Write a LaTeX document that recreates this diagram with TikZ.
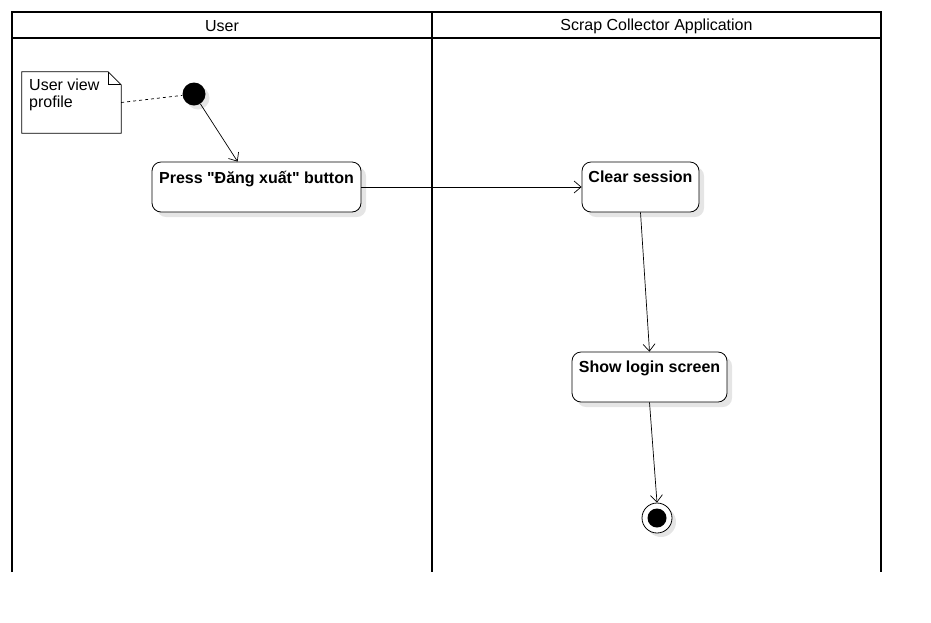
\documentclass[tikz,border=0pt]{standalone}
\usepackage{fontspec}
\setmainfont{Liberation Sans}
\usetikzlibrary{arrows.meta,shadows,calc}
\newcommand{\qdbl}{\XeTeXglyph\XeTeXglyphindex "quotedbl"\relax}
\begin{document}
\begin{tikzpicture}[x=1pt,y=-1pt,
  lane/.style={line width=2.8pt},
  hdr/.style={font=\fontsize{16}{18}\selectfont, inner sep=0pt},
  act/.style={draw, rounded corners=9pt, fill=white, line width=0.8pt,
     drop shadow={shadow xshift=5pt, shadow yshift=-5pt, fill=black!10, opacity=1}},
  acttxt/.style={font=\bfseries\fontsize{16}{18}\selectfont, inner sep=0pt, anchor=north},
  flow/.style={line width=0.7pt, -{Straight Barb[length=7pt,width=12pt,line width=0.7pt]}},
  notetxt/.style={font=\fontsize{16}{17}\selectfont, align=left, inner sep=0pt, anchor=north west}
]
\useasboundingbox (0,0) rectangle (931,622);
% swimlanes
\draw[lane] (12,572) -- (12,12) -- (881,12) -- (881,572);
\draw[lane] (432,12) -- (432,572);
\draw[lane] (12,38) -- (881,38);
\node[hdr] (huser) at (222,26) {User};
\node[hdr] (happ) at (656.5,26) {Scrap Collector Application};
% note
\node[minimum width=99pt, minimum height=61pt, inner sep=0pt] (note) at (71.5,102.5) {};
\draw[line width=0.8pt, fill=white] (note.north west) -- ($(note.north east)+(-13,0)$) -- ($(note.north east)+(0,13)$) -- (note.south east) -- (note.south west) -- cycle;
\draw[line width=0.8pt] ($(note.north east)+(-13,0)$) -- ($(note.north east)+(-13,13)$) -- ($(note.north east)+(0,13)$);
\node[notetxt] (notet) at (29,79) {User view\\profile};
% initial
\node[circle, fill=black, minimum size=23pt, inner sep=0pt,
  drop shadow={shadow xshift=4pt, shadow yshift=-4pt, fill=black!10, opacity=1}] (init) at (194,94) {};
% activities
\node[act, minimum width=209pt, minimum height=50pt] (press) at (256.5,187) {};
\node[acttxt] (presst) at ($(press.north)+(0,9)$) {Press \qdbl Đăng xuất\qdbl{} button};
\node[act, minimum width=117pt, minimum height=50pt] (clear) at (640.5,187) {};
\node[acttxt] (cleart) at ($(clear.north)+(0,9)$) {Clear session};
\node[act, minimum width=155pt, minimum height=50pt] (show) at (649.5,377) {};
\node[acttxt] (showt) at ($(show.north)+(0,9)$) {Show login screen};
% final
\node[circle, draw, fill=white, line width=0.8pt, minimum size=30pt, inner sep=0pt,
  drop shadow={shadow xshift=4pt, shadow yshift=-4pt, fill=black!10, opacity=1}] (final) at (657,518) {};
\node[circle, fill=black, minimum size=19pt, inner sep=0pt] (finalin) at (final.center) {};
% connectors
\coordinate (pin) at ($(press.north west)+(86,0)$);
\draw[line width=0.7pt, dashed, dash pattern=on 3pt off 3pt] (note.east) -- (init);
\draw[flow] (init) -- (pin);
\draw[flow] (press.east) -- (clear.west);
\draw[flow] (clear.south) -- (show.north);
\draw[flow] (show.south) -- (final.north);
\end{tikzpicture}
\end{document}
